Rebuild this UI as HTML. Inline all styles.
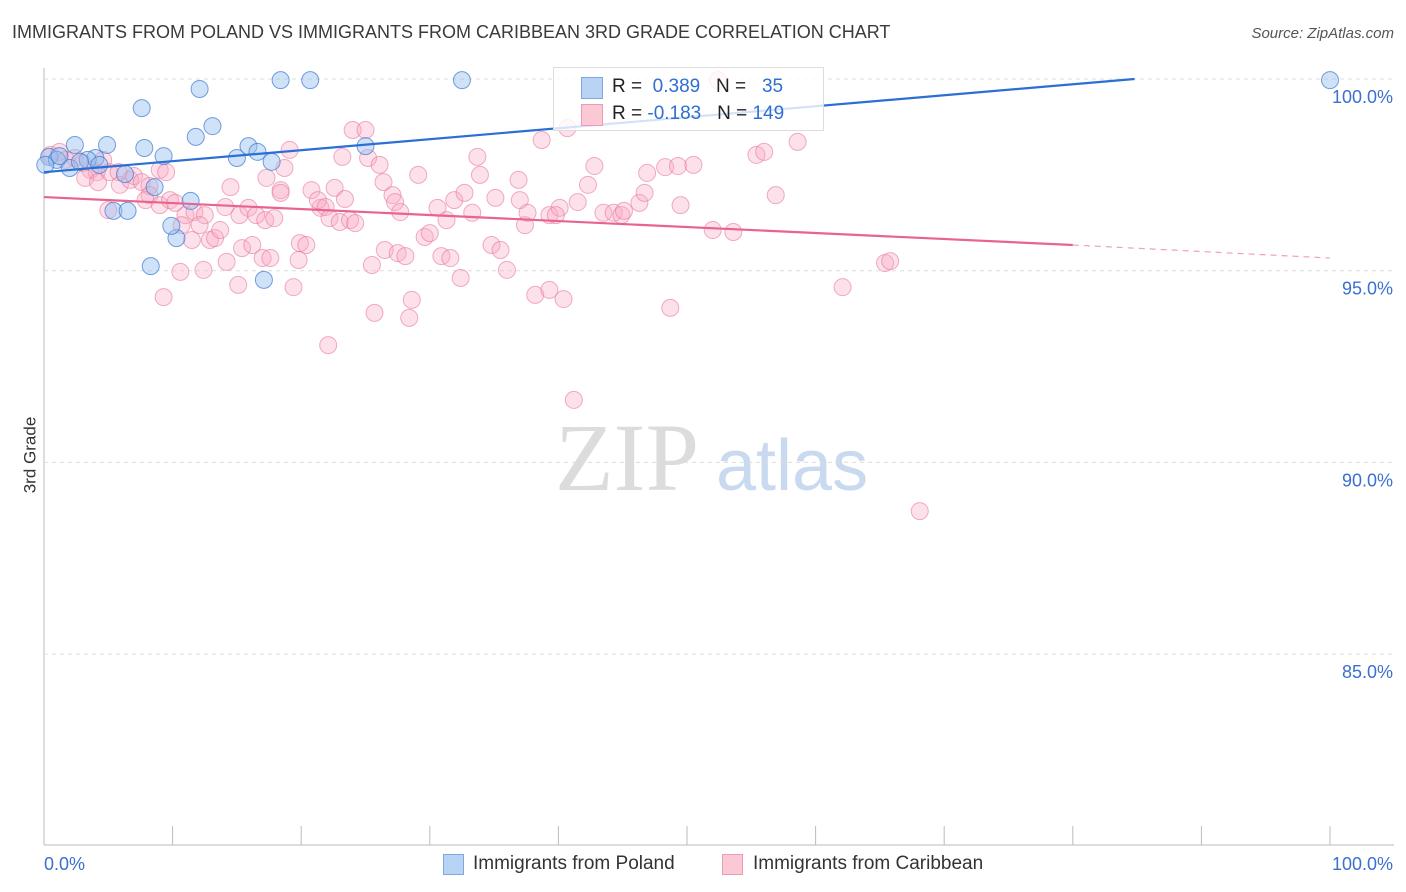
<!DOCTYPE html>
<html><head><meta charset="utf-8">
<style>
body{margin:0;background:#fff;font-family:"Liberation Sans",sans-serif;}
#wrap{position:relative;width:1406px;height:892px;overflow:hidden;}
.t{position:absolute;white-space:nowrap;}
</style></head>
<body>
<div id="wrap">
<div class="t" style="left:12px;top:22px;font-size:18px;color:#3a3a3a;">IMMIGRANTS FROM POLAND VS IMMIGRANTS FROM CARIBBEAN 3RD GRADE CORRELATION CHART</div>
<div class="t" style="right:12px;top:25px;font-size:15px;color:#555;font-style:italic;">Source: ZipAtlas.com</div>
<svg id="plot" width="1406" height="892" style="position:absolute;left:0;top:0">
<text x="555" y="490" font-size="96" fill="#dcdcdc" font-family="Liberation Serif">ZIP</text>
<text x="716" y="490" font-size="72" fill="#c9daf0" font-family="Liberation Sans">atlas</text>
</svg>
<div class="t" style="left:-8px;top:445px;font-size:17px;color:#333;transform:rotate(-90deg);">3rd Grade</div>
<div id="legend" style="position:absolute;left:553px;top:67px;width:269px;height:62px;border:1px solid #ddd;background:rgba(255,255,255,0.8);">
 <div style="position:absolute;left:27px;top:9px;width:20px;height:20px;background:#b9d3f5;border:1px solid #7ea8e0;"></div>
 <div class="t" style="left:58px;top:8px;font-size:19px;color:#222;">R = <span style="color:#2f6fd0">&nbsp;0.389</span>&nbsp;&nbsp; N = <span style="color:#2f6fd0">&nbsp;&nbsp;35</span></div>
 <div style="position:absolute;left:27px;top:36px;width:20px;height:20px;background:#fbc8d6;border:1px solid #ee9ab2;"></div>
 <div class="t" style="left:58px;top:35px;font-size:19px;color:#222;">R = <span style="color:#2f6fd0">-0.183</span>&nbsp;&nbsp; N = <span style="color:#2f6fd0">149</span></div>
</div>
<div style="position:absolute;left:443px;top:854px;width:19px;height:19px;background:#b9d3f5;border:1px solid #7ea8e0;"></div>
<div class="t" style="left:473px;top:853px;font-size:19px;color:#333;">Immigrants from Poland</div>
<div style="position:absolute;left:722px;top:854px;width:19px;height:19px;background:#fbc8d6;border:1px solid #ee9ab2;"></div>
<div class="t" style="left:753px;top:853px;font-size:19px;color:#333;">Immigrants from Caribbean</div>
</div>
<script>
const yTicks=[100,95,90,85];
const xTickLabels=["0.0%","100.0%"];
const polandX=[0.4,1.0,2.4,4.9,4.0,7.6,12.1,13.1,11.8,7.8,9.3,15.0,15.9,16.6,17.7,18.4,20.7,32.5,100,25.0,11.4,10.3,9.9,8.3,17.1,5.4,6.5,8.6,6.3,2.0,3.4,1.2,0.1,4.3,2.8];
const polandY=[97.97,97.89,98.28,98.28,97.94,99.24,99.74,98.77,98.49,98.20,97.99,97.94,98.25,98.10,97.84,99.97,99.97,99.97,99.97,98.25,96.82,95.85,96.17,95.12,94.76,96.56,96.56,97.18,97.52,97.68,97.89,97.99,97.76,97.76,97.84];
const caribX=[0.5,1.2,1.7,2.4,3.0,3.6,4.1,4.6,3.2,4.2,5.1,5.9,6.7,5.8,7.0,7.6,8.2,9.0,9.5,8.2,7.9,9.0,9.8,5.0,10.2,11.0,11.7,12.5,10.7,12.1,12.9,13.3,13.7,11.5,10.6,12.4,9.3,14.5,14.1,15.2,15.9,16.5,17.2,17.9,15.4,16.2,17.0,17.6,14.2,15.1,17.3,18.4,18.7,19.1,18.4,19.9,20.4,19.8,19.4,20.8,21.5,21.3,21.9,22.2,22.6,23.0,23.8,24.2,23.4,23.2,24.0,25.0,25.2,26.1,26.4,27.1,27.3,27.7,26.5,27.5,28.1,25.5,25.7,22.1,29.1,29.6,30.0,30.6,31.3,30.9,31.6,32.4,28.6,28.4,31.9,32.7,33.3,33.7,33.9,35.1,34.8,35.5,36.0,36.9,37.0,37.4,37.6,38.7,39.3,40.1,39.8,40.7,41.5,42.3,42.8,43.5,44.3,44.9,45.1,38.2,39.3,40.4,41.2,46.3,46.7,46.9,48.3,49.3,50.5,49.5,52.0,53.6,52.4,55.4,56.0,56.9,58.6,62.1,65.4,65.8,48.7,68.1];
const caribY=[98.02,98.10,97.89,97.94,97.81,97.63,97.57,97.89,97.42,97.31,97.57,97.24,97.37,97.57,97.47,97.31,97.21,97.63,97.57,96.97,96.84,96.71,96.84,96.58,96.77,96.45,96.53,96.45,96.19,96.19,95.80,95.85,96.06,95.80,94.97,95.02,94.31,97.18,96.66,96.45,96.64,96.45,96.32,96.37,95.59,95.67,95.33,95.33,95.23,94.63,97.42,97.10,97.68,98.15,97.03,95.72,95.67,95.28,94.57,97.10,96.64,96.84,96.66,96.37,97.16,96.27,96.32,96.24,96.87,97.97,98.67,98.67,97.94,97.76,97.31,96.97,96.79,96.53,95.54,95.46,95.38,95.15,93.90,93.06,97.50,95.88,95.98,96.64,96.32,95.38,95.33,94.81,94.24,93.77,96.84,97.03,96.51,97.97,97.50,96.90,95.67,95.54,95.02,97.37,96.84,96.19,96.51,98.41,96.45,96.64,96.45,98.72,96.79,97.24,97.73,96.51,96.51,96.45,96.56,94.37,94.50,94.26,91.63,96.77,97.03,97.55,97.70,97.73,97.76,96.71,96.06,96.01,99.97,98.02,98.10,96.97,98.36,94.57,95.20,95.25,94.03,88.73];
const polandTrendX=[0,84.8];
const polandTrendY=[97.57,100];
const caribTrendX=[0,80,100];
const caribTrendY=[96.92,95.67,95.33];

const NS="http://www.w3.org/2000/svg";
const svg=document.getElementById('plot');
const X0=44,X1=1330,YT=79,PX=38.34;
const sx=v=>X0+(X1-X0)*v/100;
const sy=v=>YT+(100-v)*PX;
function mk(tag,attrs){const e=document.createElementNS(NS,tag);for(const k in attrs)e.setAttribute(k,attrs[k]);svg.appendChild(e);return e;}
// axes
let ax=mk('line',{x1:X0,y1:68,x2:X0,y2:845,stroke:'#bbb','stroke-width':1});


let bx=mk('line',{x1:X0,y1:845,x2:1394,y2:845,stroke:'#bbb','stroke-width':1});


for(let i=0;i<=10;i++){
  const t=mk('line',{x1:sx(i*10),y1:826,x2:sx(i*10),y2:845,stroke:'#bbb','stroke-width':1});
  
  
}
yTicks.forEach(v=>{
  const g=mk('line',{x1:X0,y1:sy(v),x2:1394,y2:sy(v),stroke:'#ddd','stroke-dasharray':'4,4'});
  
  
  const tx=mk('text',{x:1393,y:sy(v)+24,'text-anchor':'end','font-size':18,fill:'#3b6fd0','font-family':'Liberation Sans'});
  tx.textContent=v.toFixed(1)+'%';
  
  
});
xTickLabels.forEach((l,i)=>{
  const tx=mk('text',{x:i==0?44:1393,y:870,'text-anchor':i==0?'start':'end','font-size':18,fill:'#3b6fd0','font-family':'Liberation Sans'});
  tx.textContent=l;
  
  
});
caribX.forEach((x,i)=>{
  const c=mk('circle',{cx:sx(x),cy:sy(caribY[i]),r:8.5,fill:'rgba(248,170,195,0.35)',stroke:'rgba(232,120,155,0.6)','stroke-width':1});
  
  
});
polandX.forEach((x,i)=>{
  const c=mk('circle',{cx:sx(x),cy:sy(polandY[i]),r:8.5,fill:'rgba(150,190,240,0.45)',stroke:'rgba(60,120,210,0.7)','stroke-width':1});
  
  
});
let pl=mk('line',{x1:sx(polandTrendX[0]),y1:sy(polandTrendY[0]),x2:sx(polandTrendX[1]),y2:sy(polandTrendY[1]),stroke:'#2a6fd4','stroke-width':2.2});


let cl=mk('line',{x1:sx(caribTrendX[0]),y1:sy(caribTrendY[0]),x2:sx(caribTrendX[1]),y2:sy(caribTrendY[1]),stroke:'#e8648e','stroke-width':2.2});


let cd=mk('line',{x1:sx(caribTrendX[1]),y1:sy(caribTrendY[1]),x2:sx(caribTrendX[2]),y2:sy(caribTrendY[2]),stroke:'#f0a0b8','stroke-width':1.2,'stroke-dasharray':'6,5'});


</script>
</body></html>
